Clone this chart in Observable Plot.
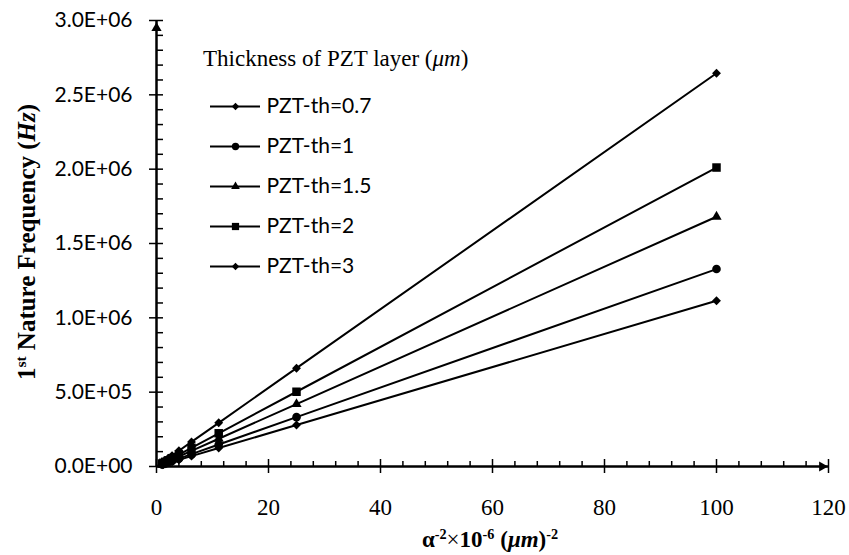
<!DOCTYPE html>
<html><head><meta charset="utf-8">
<script src="https://cdn.jsdelivr.net/npm/d3@7"></script>
<script src="https://cdn.jsdelivr.net/npm/@observablehq/plot@0.6"></script>
<style>
body{margin:0;background:#fff;}
#wrap{position:relative;width:849px;height:555px;overflow:hidden;}
.serif{font-family:"Liberation Serif","Times New Roman",serif;position:absolute;white-space:nowrap;color:#000;line-height:1;}
.serif sup{font-size:0.62em;line-height:0;vertical-align:0.55em;}
#legend{position:absolute;left:200px;top:85px;}
</style></head><body><div id="wrap"></div>
<script>
// x values: alpha^-2 x 10^-6 (um)^-2
const xValues = [100, 25, 11.11, 6.25, 4, 2.78, 2.04, 1.56, 1.23, 1];
// 1st natural frequency (Hz) per PZT thickness
const seriesNames = ["PZT-th=0.7", "PZT-th=1", "PZT-th=1.5", "PZT-th=2", "PZT-th=3"];
const th07 = [1115000, 278800, 123900, 69700, 44600, 31000, 22700, 17400, 13700, 11150];
const th1  = [1328000, 332000, 147600, 83000, 53100, 36900, 27100, 20700, 16400, 13280];
const th15 = [1680000, 420000, 186700, 105000, 67200, 46700, 34300, 26200, 20700, 16800];
const th2  = [2011000, 502800, 223400, 125700, 80400, 55900, 41000, 31400, 24800, 20110];
const th3  = [2645000, 661300, 293900, 165300, 105800, 73500, 54000, 41300, 32700, 26450];
const seriesValues = [th07, th1, th15, th2, th3];
const xTicks = [0, 20, 40, 60, 80, 100, 120];
const yTicks = [0, 500000, 1000000, 1500000, 2000000, 2500000, 3000000];

// styles
const seriesSymbols = ["diamond2", "circle", "triangle", "square", "diamond2"];
const symbolR = {diamond2: 4, circle: 4.3, triangle: 3.8, square: 4.8};

const data = seriesNames.flatMap((s, i) => xValues.map((x, j) => ({series: s, x, f: seriesValues[i][j], sym: seriesSymbols[i]})));
const xMinor = d3.range(0, 120.001, 4).filter(v => !xTicks.includes(v));
const yMinor = d3.range(0, 3000001, 100000).filter(v => !yTicks.includes(v));

function fmtE(d) {
  if (d === 0) return "0.0E+00";
  const e = Math.floor(Math.log10(d) + 1e-9);
  const m = d / Math.pow(10, e);
  return m.toFixed(1) + "E+" + String(e).padStart(2, "0");
}

const sansFont = "Lato, 'Open Sans', sans-serif";
const serifFont = "'Liberation Serif', 'Times New Roman', serif";

const chart = Plot.plot({
  width: 849, height: 555,
  marginLeft: 156, marginRight: 21, marginTop: 20, marginBottom: 89,
  x: {domain: [0, 120]},
  y: {domain: [0, 3000000]},
  marks: [
    Plot.axisY(yTicks, {tickSize: 7, tickPadding: 17, tickFormat: fmtE, fontSize: 21, fontFamily: sansFont, label: null, strokeWidth: 1.5, fill: "black"}),
    Plot.axisY(yTicks, {tickSize: -7, tickFormat: () => "", label: null, strokeWidth: 1.5}),
    Plot.axisY(yMinor, {tickSize: -7, tickFormat: () => "", label: null, strokeWidth: 1.5}),
    Plot.axisX(xTicks, {tickSize: 7, tickPadding: 25, tickFormat: d => String(d), fontSize: 23, fontFamily: serifFont, label: null, strokeWidth: 1.5, fill: "black"}),
    Plot.axisX(xTicks, {tickSize: -7, tickFormat: () => "", label: null, strokeWidth: 1.5}),
    Plot.axisX(xMinor, {tickSize: -5, tickFormat: () => "", label: null, strokeWidth: 1.5}),
    Plot.ruleX([0], {stroke: "black", strokeWidth: 2.5}),
    Plot.ruleY([0], {stroke: "black", strokeWidth: 2.5}),
    Plot.dot([0], {x: () => 0, y: () => 3000000, symbol: "triangle", r: 3.8, fill: "black", dy: 7.6}),
    Plot.dot([0], {x: () => 120, y: () => 0, symbol: "triangle", r: 3.8, fill: "black", rotate: 90, dx: -6.4}),
    Plot.line(data, {x: "x", y: "f", z: "series", stroke: "black", strokeWidth: 2}),
    ...Object.keys(symbolR).map(sym => Plot.dot(data.filter(d => d.sym === sym), {x: "x", y: "f", symbol: () => sym, r: symbolR[sym], fill: "black", stroke: "none"}))
  ]
});

const legend = Plot.plot({
  width: 230, height: 200,
  margin: 0,
  x: {domain: [0, 1], range: [10, 60], axis: null},
  y: {type: "point", domain: seriesNames, range: [20, 182], padding: 0, axis: null},
  marks: [
    Plot.ruleY(seriesNames, {y: d => d, x1: () => 0, x2: () => 1, stroke: "black", strokeWidth: 2}),
    ...seriesNames.map((s, i) => Plot.dot([s], {x: () => 0.5, y: d => d, symbol: () => seriesSymbols[i], r: symbolR[seriesSymbols[i]] * 0.85, fill: "black", stroke: "none"})),
    Plot.text(seriesNames, {x: () => 1, y: d => d, text: d => d, textAnchor: "start", dx: 6, fontSize: 21, fontFamily: sansFont, fill: "black"})
  ]
});

const wrap = document.getElementById("wrap");
wrap.appendChild(chart);
const lg = document.createElement("div");
lg.id = "legend";
lg.appendChild(legend);
wrap.appendChild(lg);

const lt = document.createElement("div");
lt.className = "serif";
lt.style.cssText = "left:203px;top:47px;font-size:23px;";
lt.innerHTML = "Thickness of PZT layer (<i>μm</i>)";
wrap.appendChild(lt);

const xt = document.createElement("div");
xt.className = "serif";
xt.style.cssText = "left:490px;top:528px;font-size:23px;font-weight:bold;transform:translateX(-50%);";
xt.innerHTML = "α<sup>-2</sup><span style='font-weight:normal'>×</span>10<sup>-6</sup> (<i>μm</i>)<sup>-2</sup>";
wrap.appendChild(xt);

const yt = document.createElement("div");
yt.className = "serif";
yt.style.cssText = "left:26px;top:242px;font-size:25px;font-weight:bold;transform:translate(-50%,-50%) rotate(-90deg);";
yt.innerHTML = "1<sup>st</sup> Nature Frequency (<i>Hz</i>)";
wrap.appendChild(yt);
</script>
</body></html>
